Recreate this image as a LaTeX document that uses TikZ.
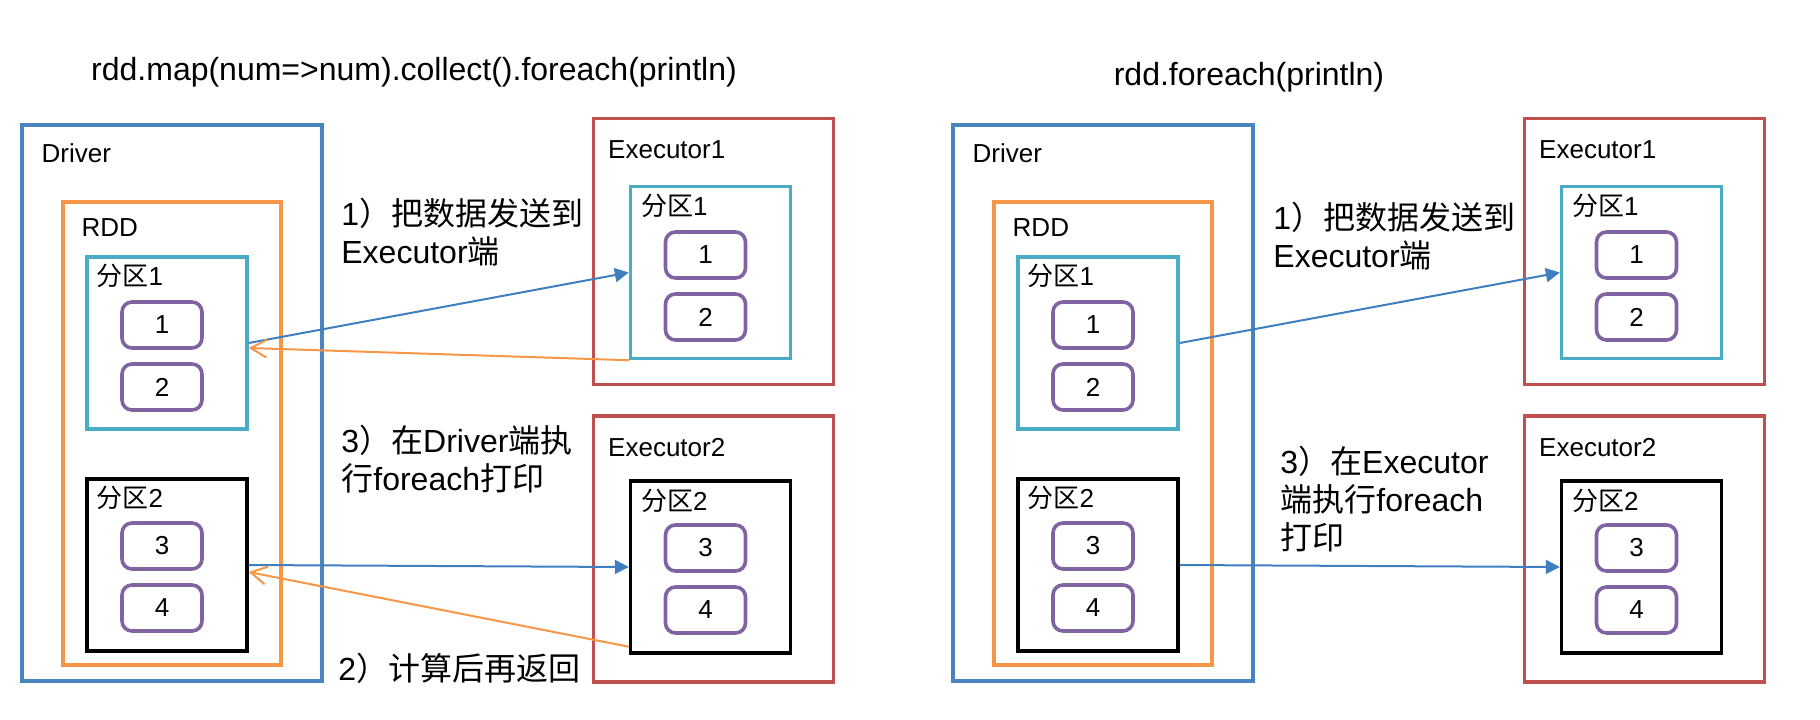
\documentclass[tikz,border=0pt]{standalone}
\usepackage{fontspec}
\setmainfont{Liberation Sans}
\newfontfamily\cjk{Noto Sans CJK SC}
\usetikzlibrary{arrows.meta,positioning}

\definecolor{drvblue}{HTML}{4A84BF}
\definecolor{rddorange}{HTML}{F79646}
\definecolor{parteal}{HTML}{4BACC6}
\definecolor{exred}{HTML}{C0504D}
\definecolor{cellpurple}{HTML}{8064A2}
\definecolor{sendblue}{HTML}{3F7FBF}

\begin{document}
\begin{tikzpicture}[x=0.5pt,y=-0.5pt,node distance=31pt]
        \tikzstyle{frame}=[draw,inner sep=0pt,line width=1.7pt]
        \tikzstyle{driver}=[frame,draw=drvblue,minimum width=150pt,minimum height=278pt]
        \tikzstyle{rdd}=[frame,draw=rddorange,minimum width=109pt,minimum height=231.5pt]
        \tikzstyle{part}=[frame,minimum width=80pt,minimum height=86pt]
        \tikzstyle{executor}=[frame,draw=exred,minimum width=120pt,minimum height=133pt]
        \tikzstyle{cell}=[draw=cellpurple,line width=1.8pt,rounded corners=5pt,minimum width=40pt,minimum height=23pt,font=\fontsize{13pt}{15pt}\selectfont]
        \tikzstyle{tag}=[anchor=base west,inner sep=0pt,font=\fontsize{13pt}{15pt}\selectfont]
        \tikzstyle{note}=[anchor=base west,inner sep=0pt,align=left,font=\fontsize{16pt}{19pt}\selectfont]
        \tikzstyle{headline}=[inner sep=0pt,font=\fontsize{16pt}{19pt}\selectfont]
        \tikzstyle{send}=[-{Triangle[length=7pt,width=7pt]},draw=sendblue,line width=1pt]
        \tikzstyle{back}=[-{Straight Barb[length=8pt,width=9pt]},draw=rddorange,line width=1pt]

        \useasboundingbox (0,0) rectangle (1820,719);

        % collect() on the driver
        \node[headline] (Ha) at (414,72) {rdd.map(num=>num).collect().foreach(println)};

        \node[driver]          (Da)  at (172,403)   {};
        \node[rdd]             (Ra)  at (172,433.5) {};
        \node[part,draw=parteal] (P1a) at (167,343) {};
        \node[part]            (P2a) at (167,565)   {};
        \node[cell]            (c1a) at (162,325)   {1};
        \node[cell]            (c2a) [below of=c1a] {2};
        \node[cell]            (c3a) at (162,546)   {3};
        \node[cell]            (c4a) [below of=c3a] {4};

        \node[executor]        (E1a) at (713.5,251.5) {};
        \node[part,draw=parteal] (Q1a) at (710.5,272.5) {};
        \node[cell]            (d1a) at (705.5,255) {1};
        \node[cell]            (d2a) [below of=d1a] {2};
        \node[executor]        (E2a) at (713.5,549) {};
        \node[part]            (Q2a) at (710.5,567) {};
        \node[cell]            (d3a) at (705.5,548) {3};
        \node[cell]            (d4a) [below of=d3a] {4};

        \node[tag] (tDa)  at ([shift={(21,39)}]Da.north west)  {Driver};
        \node[tag] (tRa)  at ([shift={(20,36)}]Ra.north west)  {RDD};
        \node[tag] (tP1a) at ([shift={(11,30)}]P1a.north west) {{\cjk 分区}1};
        \node[tag] (tP2a) at ([shift={(11,30)}]P2a.north west) {{\cjk 分区}2};
        \node[tag] (tE1a) at ([shift={(16,42)}]E1a.north west) {Executor1};
        \node[tag] (tE2a) at ([shift={(16,42)}]E2a.north west) {Executor2};
        \node[tag] (tQ1a) at ([shift={(12,31)}]Q1a.north west) {{\cjk 分区}1};
        \node[tag] (tQ2a) at ([shift={(12,31)}]Q2a.north west) {{\cjk 分区}2};

        \node[note] (s1a) at (341,263) {1{\cjk ）把数据发送到}\\Executor{\cjk 端}};
        \node[note] (s3a) at (341,490) {3{\cjk ）在}Driver{\cjk 端执}\\{\cjk 行}foreach{\cjk 打印}};
        \node[note] (s2a) at (338,680) {2{\cjk ）计算后再返回}};

        % foreach on the executors
        \node[headline] (Hb) at (1249,77) {rdd.foreach(println)};

        \node[driver]          (Db)  at (1103,403)   {};
        \node[rdd]             (Rb)  at (1103,433.5) {};
        \node[part,draw=parteal] (P1b) at (1098,343) {};
        \node[part]            (P2b) at (1098,565)   {};
        \node[cell]            (c1b) at (1093,325)   {1};
        \node[cell]            (c2b) [below of=c1b] {2};
        \node[cell]            (c3b) at (1093,546)   {3};
        \node[cell]            (c4b) [below of=c3b] {4};

        \node[executor]        (E1b) at (1644.5,251.5) {};
        \node[part,draw=parteal] (Q1b) at (1641.5,272.5) {};
        \node[cell]            (d1b) at (1636.5,255) {1};
        \node[cell]            (d2b) [below of=d1b] {2};
        \node[executor]        (E2b) at (1644.5,549) {};
        \node[part]            (Q2b) at (1641.5,567) {};
        \node[cell]            (d3b) at (1636.5,548) {3};
        \node[cell]            (d4b) [below of=d3b] {4};

        \node[tag] (tDb)  at ([shift={(21,39)}]Db.north west)  {Driver};
        \node[tag] (tRb)  at ([shift={(20,36)}]Rb.north west)  {RDD};
        \node[tag] (tP1b) at ([shift={(11,30)}]P1b.north west) {{\cjk 分区}1};
        \node[tag] (tP2b) at ([shift={(11,30)}]P2b.north west) {{\cjk 分区}2};
        \node[tag] (tE1b) at ([shift={(16,42)}]E1b.north west) {Executor1};
        \node[tag] (tE2b) at ([shift={(16,42)}]E2b.north west) {Executor2};
        \node[tag] (tQ1b) at ([shift={(12,31)}]Q1b.north west) {{\cjk 分区}1};
        \node[tag] (tQ2b) at ([shift={(12,31)}]Q2b.north west) {{\cjk 分区}2};

        \node[note] (s1b) at (1273,267) {1{\cjk ）把数据发送到}\\Executor{\cjk 端}};
        \node[note] (s3b) at (1280,549) {3{\cjk ）在}Executor\\{\cjk 端执行}foreach\\{\cjk 打印}};

        \path (P1a.east) edge[send] (Q1a.west)
              (Q1a.south west) edge[back] ([yshift=-2.5pt]P1a.east)
              (P2a.east) edge[send] (Q2a.west)
              ([yshift=4pt]Q2a.south west) edge[back] ([yshift=-3.5pt]P2a.east)
              (P1b.east) edge[send] (Q1b.west)
              (P2b.east) edge[send] (Q2b.west);
\end{tikzpicture}
\end{document}
